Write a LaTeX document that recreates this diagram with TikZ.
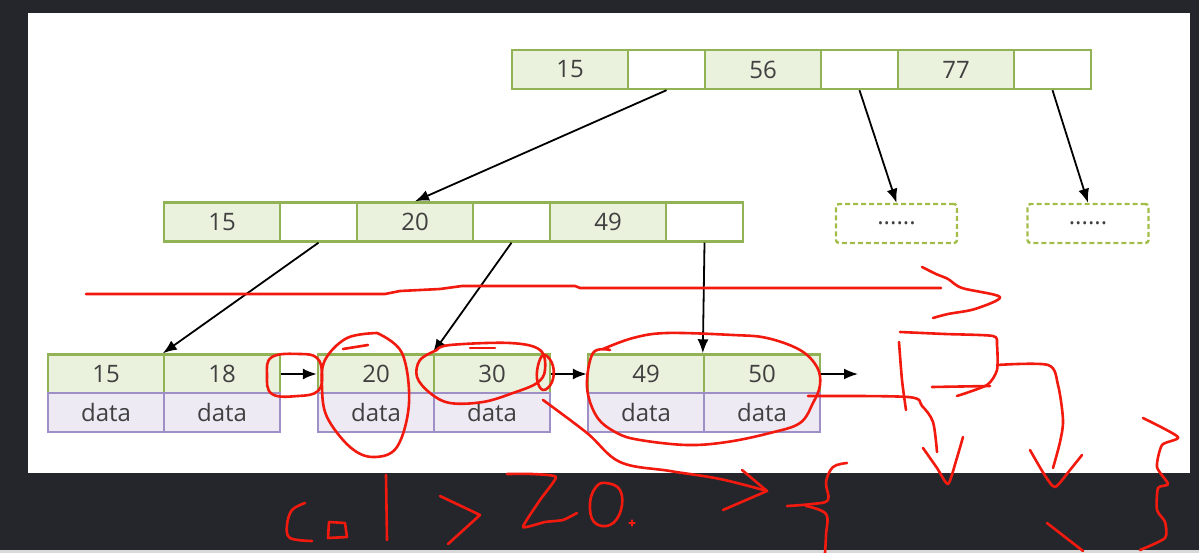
\documentclass[tikz,border=0pt]{standalone}
\usepackage{fontspec}
\setmainfont{Open Sans}
\usepackage{tikz}
\usetikzlibrary{arrows.meta,positioning,calc}

\definecolor{keyfill}{RGB}{234,241,221}
\definecolor{keyline}{RGB}{146,178,86}
\definecolor{datafill}{RGB}{237,234,244}
\definecolor{dataline}{RGB}{158,144,198}
\definecolor{slide}{RGB}{37,38,44}
\definecolor{pen}{RGB}{242,26,14}

\begin{document}
\begin{tikzpicture}[x=1pt, y=-1pt, align=center,
  every node/.style={font=\fontsize{24}{28}\selectfont, text=black!75, inner sep=0pt},
  key/.style={draw=keyline, fill=keyfill, line width=2.4pt, minimum width=116pt, minimum height=39pt},
  ptr/.style={draw=keyline, fill=white, line width=2.4pt, minimum width=77pt, minimum height=39pt},
  rec/.style={draw=dataline, fill=datafill, line width=2.4pt, minimum width=116pt, minimum height=39pt},
  more/.style={draw=keyline!85!yellow, line width=2.4pt, dash pattern=on 5pt off 3pt, rounded corners=3pt, minimum width=121pt, minimum height=39pt},
  link/.style={-{Latex[length=14pt,width=11pt]}, line width=1.8pt},
  ink/.style={draw=pen, line width=2.6pt, line cap=round, line join=round}]

\useasboundingbox (0,0) rectangle (1199,553);
\fill[slide] (0,0) rectangle (1199,553);
\fill[white] (28,13) rectangle (1190,473);
\fill[black!15] (0,550) rectangle (1199,553);

% ------------------------------- root

\node (top15) [key] at (570,69.5) {15};
\node (top15p) [ptr] at (666.5,69.5) {};
\node (top56) [key] at (763,69.5) {56};
\node (top56p) [ptr] at (859.5,69.5) {};
\node (top77) [key] at (956,69.5) {77};
\node (top77p) [ptr] at (1052.5,69.5) {};

% ------------------------------- inner level

\node (mid15) [key] at (222,222) {15};
\node (mid15p) [ptr] at (318.5,222) {};
\node (mid20) [key] at (415,222) {20};
\node (mid20p) [ptr] at (511.5,222) {};
\node (mid49) [key] at (608,222) {49};
\node (mid49p) [ptr] at (704.5,222) {};

\node (more56) [more] at (896.5,223.5) {......};
\node (more77) [more] at (1088,223.5) {......};

% ------------------------------- leaves

\node (leaf15) [key] at (106,374) {15};
\node (leaf18) [key] at (222,374) {18};
\node (leaf20) [key] at (376,374) {20};
\node (leaf30) [key] at (492,374) {30};
\node (leaf49) [key] at (646,374) {49};
\node (leaf50) [key] at (762,374) {50};

\node (data15) [rec] at (106,412.5) {data};
\node (data18) [rec] at (222,412.5) {data};
\node (data20) [rec] at (376,412.5) {data};
\node (data30) [rec] at (492,412.5) {data};
\node (data49) [rec] at (646,412.5) {data};
\node (data50) [rec] at (762,412.5) {data};

\coordinate (tail) at (858,374);

\draw[link] (top15p.south) edge (mid20.north) (top56p.south) edge (more56.north) (top77p.south) -- (more77.north);
\draw[link] (mid15p.south) edge (leaf18.north west) (mid20p.south) edge (leaf30.north west) (mid49p.south) -- (leaf50.north west);
\draw[link] (leaf18.east) edge (leaf20.west) (leaf30.east) edge (leaf49.west) (leaf50.east) -- (tail);

% ------------------------------- red pen marks

\draw[ink] (86,294) -- (385,294) -- (400,291) -- (440,289) -- (462,286) -- (575,286) -- (580,288) -- (941,288);
\draw[ink] plot[smooth, tension=0.5] coordinates {(922,267) (936,274) (948,279) (962,288) (1000,297) (975,309) (948,314) (933,318)};

\draw[ink] plot[smooth cycle, tension=0.7] coordinates {(300,354) (317,358) (322,374) (318,391) (298,396) (272,394) (267,375) (272,357)};
\draw[ink] plot[smooth, tension=0.6] coordinates {(343,349) (368,345)};
\draw[ink] plot[smooth, tension=0.6] coordinates {(377,333) (402,353) (409,403) (397,447) (373,457) (350,447) (327,417) (322,387) (325,360) (347,338) (377,333)};
\draw[ink] plot[smooth, tension=0.6] coordinates {(470,348) (495,348)};
\draw[ink] plot[smooth, tension=0.6] coordinates {(437,350) (450,345) (510,343) (540,350) (545,370) (537,383) (513,393) (483,402) (450,403) (430,393) (417,377) (420,360) (437,350)};
\draw[ink] plot[smooth cycle, tension=0.7] coordinates {(545,355) (553,366) (552,382) (543,390) (537,379) (539,362)};
\draw[ink] plot[smooth, tension=0.6] coordinates {(610,350) (593,353) (587,387) (597,417) (617,433) (640,440) (687,445) (727,442) (770,433) (800,423) (813,403) (820,385) (817,367) (800,350) (767,338) (733,335) (667,333) (633,338) (603,349)};

\draw[ink] plot[smooth, tension=0.6] coordinates {(543,400) (587,433) (620,462) (670,471) (720,479) (767,491)};
\draw[ink] (742,470) -- (767,491) -- (723,510);
\draw[ink] plot[smooth, tension=0.6] coordinates {(847,463) (833,467) (826,482) (828,500) (812,504) (787,506)};
\draw[ink] plot[smooth, tension=0.6] coordinates {(806,506) (826,514) (826,535) (825,553)};

\draw[ink] plot[smooth, tension=0.5] coordinates {(899,342) (902,380) (906,410)};
\draw[ink] plot[smooth, tension=0.4] coordinates {(900,332) (945,334) (993,336) (997,345) (997,370) (987,385) (957,396)};
\draw[ink] (932,387) -- (990,386);
\draw[ink] plot[smooth, tension=0.5] coordinates {(997,365) (1048,365) (1058,385) (1063,420) (1060,442) (1053,468)};
\draw[ink] plot[smooth, tension=0.4] coordinates {(1030,450) (1044,474) (1055,487) (1070,470) (1082,455)};
\draw[ink] plot[smooth, tension=0.5] coordinates {(808,396) (908,397) (922,406) (933,422) (937,452)};
\draw[ink] plot[smooth, tension=0.4] coordinates {(923,448) (937,468) (948,484) (956,461) (963,437)};
\draw[ink] plot[smooth, tension=0.4] coordinates {(1143,418) (1178,437) (1162,445) (1157,467) (1168,484) (1158,488) (1157,510) (1165,522) (1165,538) (1140,550)};
\draw[ink] (1047,523) -- (1083,551);

% ------------------------------- col > 20.

\draw[ink] plot[smooth, tension=0.6] coordinates {(305,503) (292,510) (287,525) (290,538) (312,541)};
\draw[ink] (329,522) -- (345,523) -- (347,537) -- (328,538) -- cycle;
\draw[ink] (386,475) -- (387,540);
\draw[ink] (440,496) -- (480,515) -- (448,544);
\draw[ink] plot[smooth, tension=0.3] coordinates {(507,474) (532,474) (556,477) (540,500) (523,527) (545,522) (563,520) (577,513)};
\draw[ink] plot[smooth cycle, tension=0.7] coordinates {(606,483) (620,490) (621,510) (610,525) (594,522) (590,503) (596,487)};
\draw[ink, line width=1.2pt] (629,523) -- (635,523) (632,520) -- (632,526);
\end{tikzpicture}
\end{document}
